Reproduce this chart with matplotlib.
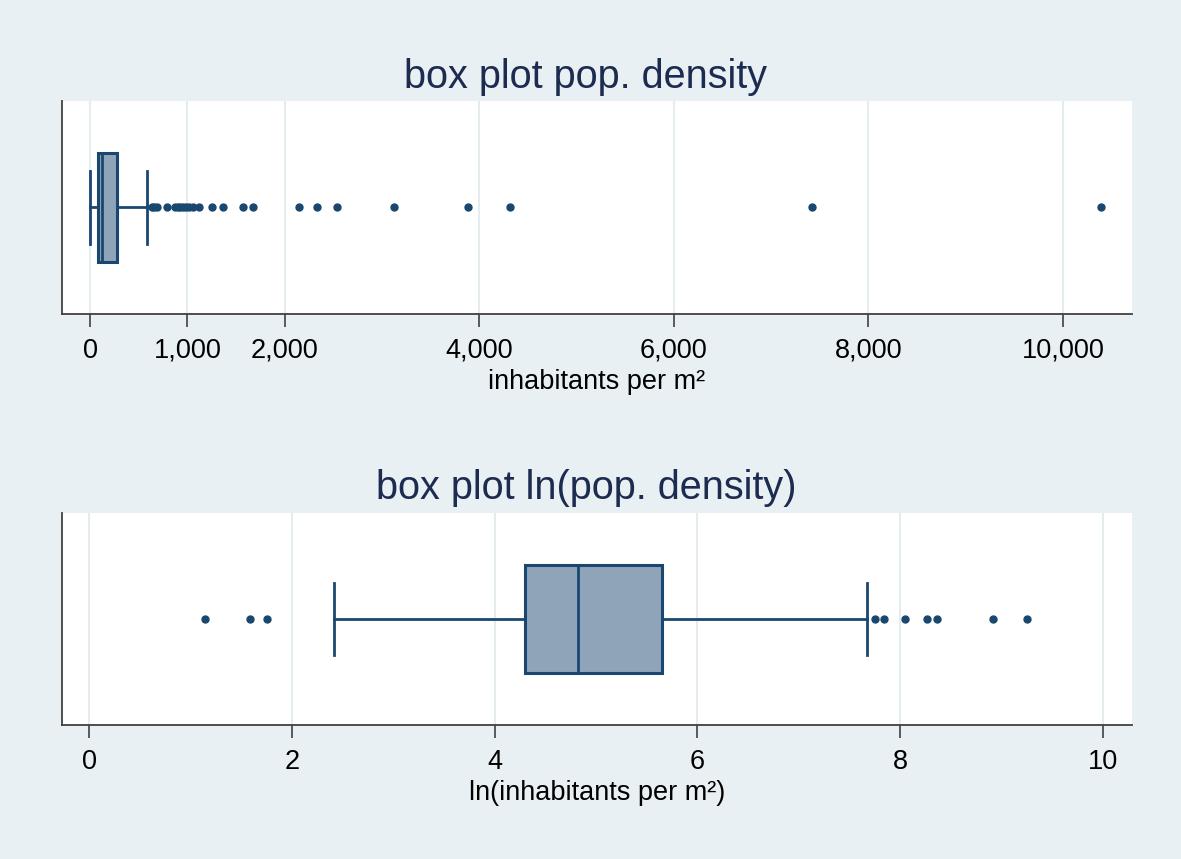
import matplotlib
matplotlib.use('Agg')
import matplotlib.pyplot as plt
from matplotlib.ticker import FuncFormatter

# top panel: population density (inhabitants per m2)
dens_box = [2, 79, 125, 280, 589]  # whislo, q1, median, q3, whishi
dens_out = [634, 658, 685, 795, 874, 901, 925, 959, 987, 1017, 1055, 1120,
            1254, 1363, 1576, 1672, 2151, 2330, 2538, 3128, 3885, 4316,
            7420, 10390]
dens_ticks = [0, 1000, 2000, 4000, 6000, 8000, 10000]

# bottom panel: ln(population density)
ln_box = [2.41, 4.30, 4.82, 5.65, 7.67]
ln_out = [1.14, 1.58, 1.75, 7.75, 7.84, 8.05, 8.27, 8.37, 8.92, 9.25]
ln_ticks = [0, 2, 4, 6, 8, 10]

navy = '#1a476f'
bg = '#e8f0f3'
plt.rcParams['font.family'] = ['Liberation Sans', 'DejaVu Sans']

fig = plt.figure(figsize=(11.81, 8.59), dpi=100, facecolor=bg)


def draw(ax, box, outl, ticks, xlim, fmt, xlabel):
    st = dict(whislo=box[0], q1=box[1], med=box[2], q3=box[3],
              whishi=box[4], fliers=outl)
    ax.bxp([st], positions=[0.5], widths=0.51, vert=False, capwidths=0.34,
           patch_artist=True, showfliers=True,
           boxprops=dict(facecolor='#8fa4b9', edgecolor=navy, linewidth=2.2),
           medianprops=dict(color=navy, linewidth=2),
           whiskerprops=dict(color=navy, linewidth=2),
           capprops=dict(color=navy, linewidth=2),
           flierprops=dict(marker='o', markersize=5, markerfacecolor=navy,
                           markeredgecolor=navy, linestyle='none'))
    ax.set_ylim(0, 1)
    ax.set_xlim(*xlim)
    ax.set_yticks([])
    ax.set_xticks(ticks)
    ax.xaxis.set_major_formatter(FuncFormatter(fmt))
    ax.grid(axis='x', color='#e4ecf0', linewidth=1.5)
    ax.set_axisbelow(True)
    for s in ['top', 'right']:
        ax.spines[s].set_visible(False)
    for s in ['left', 'bottom']:
        ax.spines[s].set_color('#404040')
        ax.spines[s].set_linewidth(1.3)
    ax.tick_params(axis='x', length=9, width=1.2, color='#404040',
                   labelsize=19.5, pad=8)
    ax.set_xlabel(xlabel, fontsize=19.5, labelpad=4)


ax1 = fig.add_axes([0.0525, 0.6345, 0.906, 0.2479])
draw(ax1, dens_box, dens_out, dens_ticks, (-288, 10709),
     lambda v, p: f'{int(v):,}', 'inhabitants per m²')

ax2 = fig.add_axes([0.0525, 0.156, 0.906, 0.2468])
draw(ax2, ln_box, ln_out, ln_ticks, (-0.271, 10.29),
     lambda v, p: f'{int(v)}', 'ln(inhabitants per m²)')

fig.text(586 / 1181, 1 - 77 / 859, 'box plot pop. density', ha='center',
         va='center', fontsize=28.5, color='#1c2b4f')
fig.text(586 / 1181, 1 - 488 / 859, 'box plot ln(pop. density)', ha='center',
         va='center', fontsize=28.5, color='#1c2b4f')

fig.savefig('out.png', dpi=100, facecolor=bg)
